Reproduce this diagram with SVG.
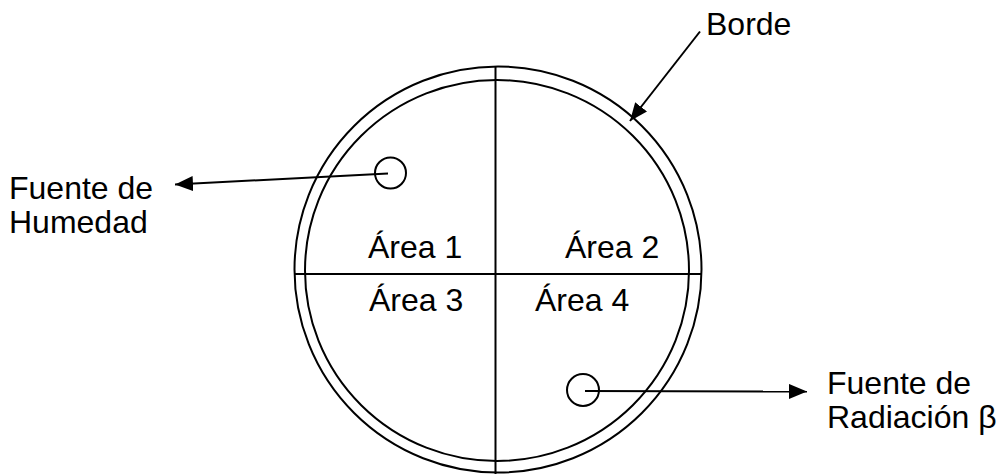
<svg xmlns="http://www.w3.org/2000/svg" width="1001" height="474" viewBox="0 0 1001 474">
<style>
.s{fill:none;stroke:#000;stroke-width:2}
.t{font-family:"Liberation Sans",Arial,sans-serif;font-size:32px;fill:#000}
</style>
<defs>
<marker id="ah" markerUnits="userSpaceOnUse" markerWidth="19" markerHeight="15" refX="18" refY="7.5" orient="auto">
<path d="M0,0 L18,7.5 L0,15 Z" fill="#000"/>
</marker>
</defs>
<rect width="1001" height="474" fill="#fff"/>
<g id="plate">
<ellipse class="s" cx="498" cy="269.5" rx="203.5" ry="203"/>
<ellipse class="s" cx="497" cy="270.5" rx="192" ry="190.5"/>
<line class="s" x1="495.5" y1="66" x2="495.5" y2="474"/>
<line class="s" x1="294" y1="274" x2="702" y2="274"/>
</g>
<g id="area1"><text class="t" x="368" y="258">Área 1</text></g>
<g id="area2"><text class="t" x="565" y="258">Área 2</text></g>
<g id="area3"><text class="t" x="369" y="311">Área 3</text></g>
<g id="area4"><text class="t" x="535" y="311">Área 4</text></g>
<g id="humedad">
<circle class="s" cx="390.5" cy="173" r="15.5"/>
<text class="t" x="9" y="199">Fuente de</text>
<text class="t" x="9" y="233">Humedad</text>
</g>
<g id="radiacion">
<circle class="s" cx="583" cy="390" r="16"/>
<text class="t" x="827" y="394">Fuente de</text>
<text class="t" x="827" y="428">Radiación β</text>
</g>
<g id="borde"><text class="t" x="706" y="35">Borde</text></g>
<g id="connectors">
<line class="s" x1="388" y1="173.5" x2="175" y2="184.5" marker-end="url(#ah)"/>
<line class="s" x1="585" y1="391" x2="807" y2="391.5" marker-end="url(#ah)"/>
<line class="s" x1="700" y1="31.5" x2="630" y2="121" marker-end="url(#ah)"/>
</g>
</svg>
